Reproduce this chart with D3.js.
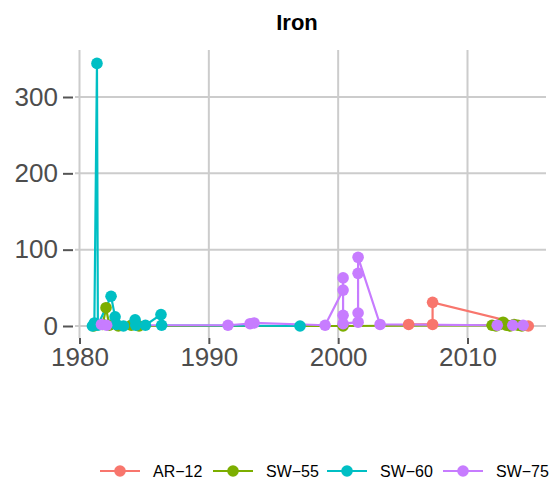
<!doctype html>
<html>
<head>
<meta charset="UTF-8">
<title>Iron</title>
<script src="https://d3js.org/d3.v7.min.js"></script>
<style>
  body { margin: 0; background: #fff; }
  text { font-family: "Liberation Sans", Arial, Helvetica, sans-serif; }
</style>
</head>
<body>
<script>
// values (decimal years, iron)
var series = ["AR-12", "SW-55", "SW-60", "SW-75"];
var colors = ["#F8766D", "#7CAE00", "#00BFC4", "#C77CFF"];

var ar12Dates  = [2005.45, 2007.3, 2007.3, 2014.7];
var ar12Values = [2, 2, 31, 0];

var sw55Dates  = [1981.1, 1981.8, 1982.05, 1982.3, 1983.0, 1984.0, 1984.6, 2000.38,
                  2011.9, 2012.2, 2012.5, 2012.75, 2013.0, 2013.3, 2013.6, 2013.9, 2014.2];
var sw55Values = [0, 2, 24, 1, 0, 1, 0, 0,
                  1, 0, 2, 5, 1, 0, 2, 1, 0];

var sw60Dates  = [1981.0, 1981.15, 1981.35, 1981.42, 1982.44, 1982.75, 1982.85,
                  1983.4, 1984.3, 1984.35, 1985.1, 1986.3, 1986.35, 1997.05];
var sw60Values = [0, 4, 344, 1, 39, 12, 2,
                  0, 8, 1, 1, 15, 1, 0];

var sw75Dates  = [1981.7, 1982.1, 1991.48, 1993.19, 1993.5, 1998.99,
                  2000.38, 2000.38, 2000.38, 2000.38,
                  2001.54, 2001.54, 2001.54, 2001.54, 2003.24,
                  2012.3, 2013.5, 2014.3];
var sw75Values = [2, 1, 1, 3, 4, 1,
                  47, 63, 14, 3,
                  5, 17, 69, 90, 2,
                  1, 1, 1];

var xTicks = [1980, 1990, 2000, 2010];
var yTicks = [0, 100, 200, 300];

var data = [
  {name: series[0], dates: ar12Dates, values: ar12Values},
  {name: series[1], dates: sw55Dates, values: sw55Values},
  {name: series[2], dates: sw60Dates, values: sw60Values},
  {name: series[3], dates: sw75Dates, values: sw75Values}
];

var W = 551, H = 482;
var panel = {left: 75, right: 546, top: 50, bottom: 338};

var svg = d3.select("body").append("svg")
    .attr("width", W)
    .attr("height", H);

var x = d3.scaleLinear().domain([1980, 2010]).range([79.5, 467.5]);
var y = d3.scaleLinear().domain([0, 300]).range([326, 97]);
var color = d3.scaleOrdinal().domain(series).range(colors);

// grid
var grid = svg.append("g");
grid.selectAll("line.h").data(yTicks).enter().append("line")
    .attr("x1", panel.left).attr("x2", panel.right)
    .attr("y1", function(d){ return y(d); })
    .attr("y2", function(d){ return y(d); })
    .attr("stroke", "#cccccc").attr("stroke-width", 2);
grid.selectAll("line.v").data(xTicks).enter().append("line")
    .attr("y1", panel.top).attr("y2", panel.bottom)
    .attr("x1", function(d){ return x(d); })
    .attr("x2", function(d){ return x(d); })
    .attr("stroke", "#cccccc").attr("stroke-width", 2);

// axes
var xAxis = d3.axisBottom(x).tickValues(xTicks).tickSize(6).tickPadding(4).tickFormat(d3.format("d"));
var yAxis = d3.axisLeft(y).tickValues(yTicks).tickSize(10).tickPadding(5);

var gx = svg.append("g").attr("transform", "translate(0," + panel.bottom + ")").call(xAxis);
var gy = svg.append("g").attr("transform", "translate(" + (panel.left - 2) + ",0)").call(yAxis);
[gx, gy].forEach(function(g){
  g.select(".domain").remove();
  g.selectAll(".tick line").attr("stroke", "#555555").attr("stroke-width", 2);
  g.selectAll(".tick text").attr("fill", "#4D4D4D").style("font-size", "26px");
});

// lines and points
var line = d3.line()
    .x(function(d){ return x(d[0]); })
    .y(function(d){ return y(d[1]); });

data.forEach(function(s){
  var pts = s.dates.map(function(d, i){ return [d, s.values[i]]; });
  // geom_line order: by date, ties keep data order
  var sorted = pts.slice().sort(function(a, b){ return a[0] - b[0]; });
  svg.append("path")
      .datum(sorted)
      .attr("d", line)
      .attr("fill", "none")
      .attr("stroke", color(s.name))
      .attr("stroke-width", 2.2);
});
data.forEach(function(s){
  svg.append("g").selectAll("circle")
      .data(s.dates.map(function(d, i){ return [d, s.values[i]]; }))
      .enter().append("circle")
      .attr("cx", function(d){ return x(d[0]); })
      .attr("cy", function(d){ return y(d[1]); })
      .attr("r", 5.8)
      .attr("fill", color(s.name));
});

// title
svg.append("text")
    .attr("x", 297).attr("y", 30)
    .attr("text-anchor", "middle")
    .style("font-size", "22px").style("font-weight", "bold")
    .text("Iron");

// legend
var legendX = [100, 213, 327, 443];
var legend = svg.append("g").selectAll("g").data(series).enter().append("g")
    .attr("transform", function(d, i){ return "translate(" + legendX[i] + ",471)"; });
legend.append("line")
    .attr("x1", 0).attr("x2", 40)
    .attr("stroke", function(d){ return color(d); })
    .attr("stroke-width", 2.2);
legend.append("circle")
    .attr("cx", 20).attr("r", 5.8)
    .attr("fill", function(d){ return color(d); });
legend.append("text")
    .attr("x", 53).attr("y", 6)
    .style("font-size", "16px")
    .attr("fill", "#000")
    .text(function(d){ return d.replace("-", "\u2212"); });
</script>
</body>
</html>
